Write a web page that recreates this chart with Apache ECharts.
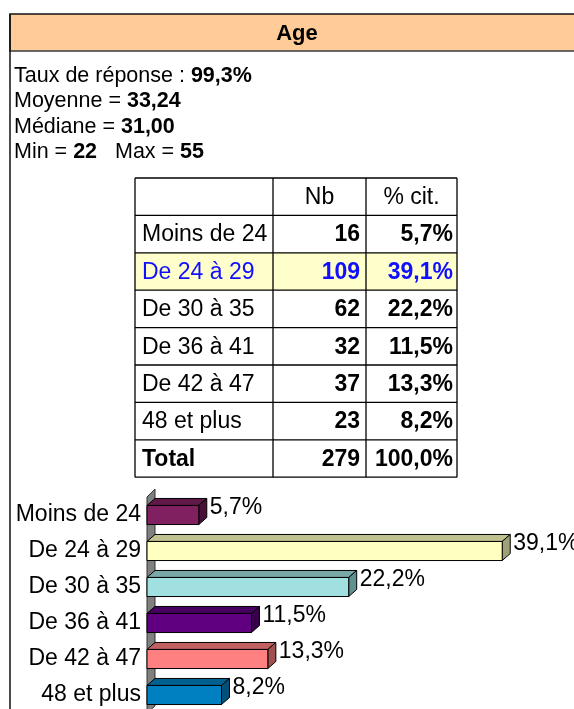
<!DOCTYPE html>
<html>
<head>
<meta charset="utf-8">
<script src="https://cdn.jsdelivr.net/npm/echarts@6/dist/echarts.min.js"></script>
<style>
  html, body { margin: 0; padding: 0; background: #fff; overflow: hidden; }
  #chart { width: 574px; height: 730px; }
</style>
</head>
<body>
<div id="chart"></div>
<script>
// data
var categories = ['Moins de 24', 'De 24 à 29', 'De 30 à 35', 'De 36 à 41', 'De 42 à 47', '48 et plus'];
var counts = [16, 109, 62, 32, 37, 23];
var percents = [5.7, 39.1, 22.2, 11.5, 13.3, 8.2];
var totalCount = 279;
var totalPercent = 100.0;
var tableHeader = ['', 'Nb', '% cit.'];
var highlightIndex = 1;
var statLines = [
  ['Taux de réponse : ', '99,3%'],
  ['Moyenne = ', '33,24'],
  ['Médiane = ', '31,00'],
  ['Min = ', '22', '   Max = ', '55']
];

// colours: front, top, side
var barColors = [
  ['#802060', '#601848', '#4a1038'],
  ['#ffffc0', '#c0c090', '#a0a078'],
  ['#a0e0e0', '#78a8a8', '#609090'],
  ['#600080', '#480060', '#380048'],
  ['#ff8080', '#c06060', '#a05050'],
  ['#0080c0', '#006090', '#005078']
];

var FONT = '"Liberation Sans", Arial, Helvetica, sans-serif';
var DX = 8, DY = 7;

function fmtPct(v) {
  return v.toFixed(1).replace('.', ',') + '%';
}

let myChart = echarts.init(document.getElementById('chart'), null, { renderer: 'canvas' });
var option;

// ---- header + stats text ----
var graphics = [
  {
    type: 'rect', z: 1,
    shape: { x: 10, y: 14, width: 600, height: 37 },
    style: { fill: '#ffcc99', stroke: '#111', lineWidth: 1.5 }
  },
  {
    type: 'line', z: 2,
    shape: { x1: 10, y1: 51, x2: 600, y2: 51 },
    style: { stroke: '#888', lineWidth: 1 }
  },
  {
    type: 'line', z: 2,
    shape: { x1: 10, y1: 14, x2: 10, y2: 740 },
    style: { stroke: '#111', lineWidth: 1.5 }
  },
  {
    type: 'text', z: 3,
    style: {
      x: 297, y: 34, text: 'Age', align: 'center', verticalAlign: 'middle',
      font: 'bold 22px ' + FONT, fill: '#000'
    }
  }
];

statLines.forEach(function (parts, i) {
  var txt = '';
  parts.forEach(function (p, j) {
    txt += '{' + (j % 2 ? 'b' : 'n') + '|' + p + '}';
  });
  graphics.push({
    type: 'text', z: 3,
    style: {
      x: 14, y: 76 + i * 25.5, text: txt, verticalAlign: 'middle',
      rich: {
        n: { fontFamily: FONT, fontSize: 21.5, fill: '#000' },
        b: { fontFamily: FONT, fontSize: 21.5, fontWeight: 'bold', fill: '#000' }
      }
    }
  });
});

// ---- table ----
var colX = [135, 273, 366, 457];
var rowTop = 178;
var rowH = 37.4;
var rows = [tableHeader];
categories.forEach(function (c, i) {
  rows.push([c, String(counts[i]), fmtPct(percents[i])]);
});
rows.push(['Total', String(totalCount), fmtPct(totalPercent)]);

rows.forEach(function (r, ri) {
  var y = rowTop + ri * rowH;
  var isHi = ri - 1 === highlightIndex;
  if (isHi) {
    graphics.push({
      type: 'rect', z: 1,
      shape: { x: colX[0], y: y, width: colX[3] - colX[0], height: rowH },
      style: { fill: '#ffffcc' }
    });
  }
  r.forEach(function (cell, ci) {
    var isHead = ri === 0;
    var isTotal = ri === rows.length - 1;
    var bold = (!isHead && ci > 0) || (isTotal && ci === 0);
    var align = ci === 0 ? 'left' : (isHead ? 'center' : 'right');
    var tx = ci === 0 ? colX[0] + 7 : (isHead ? (colX[ci] + colX[ci + 1]) / 2 : colX[ci + 1] - (ci === 1 ? 6 : 4));
    graphics.push({
      type: 'text', z: 3,
      style: {
        x: tx, y: y + rowH / 2 + 1, text: cell, align: align, verticalAlign: 'middle',
        font: (bold ? 'bold ' : '') + '23px ' + FONT,
        fill: isHi ? '#1010ff' : '#000'
      }
    });
  });
});
// grid lines of the table
for (var ri = 0; ri <= rows.length; ri++) {
  var yy = rowTop + ri * rowH;
  graphics.push({
    type: 'line', z: 4,
    shape: { x1: colX[0], y1: yy, x2: colX[3], y2: yy },
    style: { stroke: '#000', lineWidth: 1.3 }
  });
}
colX.forEach(function (x) {
  graphics.push({
    type: 'line', z: 4,
    shape: { x1: x, y1: rowTop, x2: x, y2: rowTop + rows.length * rowH },
    style: { stroke: '#000', lineWidth: 1.3 }
  });
});

// ---- 3D bars ----
function renderWall(params, api) {
  var cs = params.coordSys;
  var x = cs.x, top = cs.y, bot = cs.y + cs.height;
  return {
    type: 'polygon',
    shape: { points: [[x, top], [x + DX, top - DY - 1], [x + DX, bot - DY], [x, bot]] },
    style: { fill: '#808080', stroke: '#333', lineWidth: 1 }
  };
}

function renderBar(params, api) {
  var idx = api.value(1);
  var val = api.value(0);
  var start = api.coord([0, idx]);
  var end = api.coord([val, idx]);
  var h = api.size([0, 1])[1] * 0.53;
  var x0 = start[0], x1 = end[0];
  var yT = start[1] - h / 2, yB = start[1] + h / 2;
  var c = barColors[idx];
  var line = { stroke: '#000', lineWidth: 1 };
  return {
    type: 'group',
    children: [
      {
        type: 'polygon',
        shape: { points: [[x0, yT], [x0 + DX, yT - DY], [x1 + DX, yT - DY], [x1, yT]] },
        style: Object.assign({ fill: c[1] }, line)
      },
      {
        type: 'polygon',
        shape: { points: [[x1, yT], [x1 + DX, yT - DY], [x1 + DX, yB - DY], [x1, yB]] },
        style: Object.assign({ fill: c[2] }, line)
      },
      {
        type: 'rect',
        shape: { x: x0, y: yT, width: x1 - x0, height: h },
        style: Object.assign({ fill: c[0] }, line)
      },
      {
        type: 'text',
        style: {
          x: x1 + DX + 3, y: start[1] - DY, text: fmtPct(val),
          align: 'left', verticalAlign: 'middle',
          font: '23px ' + FONT, fill: '#000'
        }
      }
    ]
  };
}

option = {
  animation: false,
  graphic: graphics,
  grid: { left: 147, top: 497, right: 0, height: 216, containLabel: false },
  xAxis: {
    type: 'value', min: 0, max: 47, show: false
  },
  yAxis: {
    type: 'category',
    data: categories,
    inverse: true,
    axisLine: { show: false },
    axisTick: { show: false },
    axisLabel: { margin: 6, fontSize: 23, fontFamily: FONT, color: '#000' }
  },
  series: [
    {
      type: 'custom',
      renderItem: renderWall,
      data: [[0, 0]],
      z: 1,
      silent: true
    },
    {
      type: 'custom',
      renderItem: renderBar,
      encode: { x: 0, y: 1 },
      data: percents.map(function (p, i) { return [p, i]; }),
      z: 2
    }
  ]
};

option && myChart.setOption(option);
</script>
</body>
</html>
